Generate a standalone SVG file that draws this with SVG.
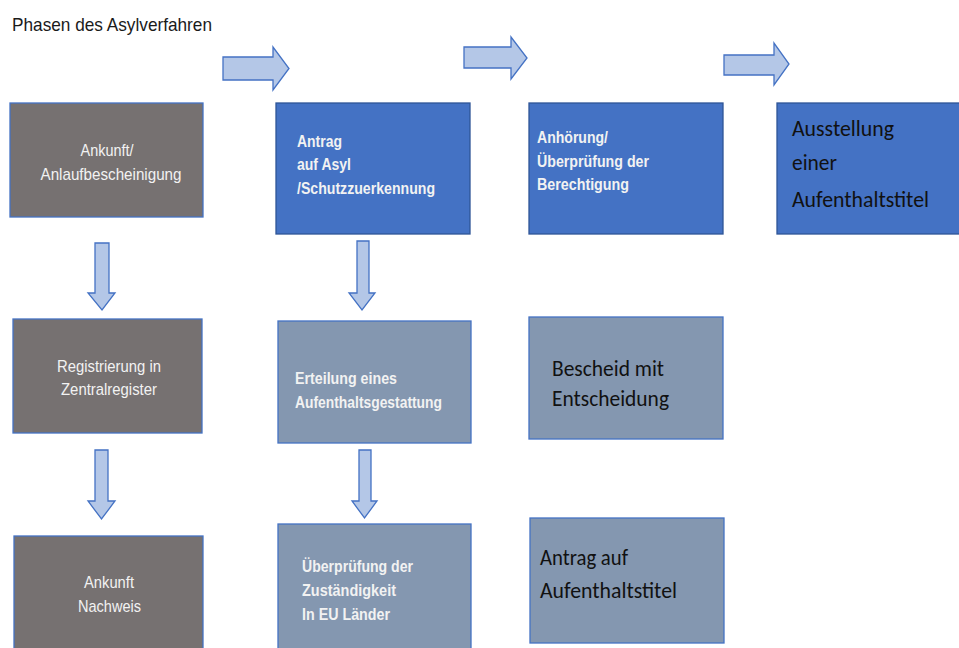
<svg xmlns="http://www.w3.org/2000/svg" width="959" height="648" viewBox="0 0 959 648">
<defs>
<style>
.bg{fill:#ffffff}
.gray{fill:#767171;stroke:#4472C4;stroke-width:1.3}
.blue{fill:#4472C4;stroke:#2F5597;stroke-width:1.3}
.light{fill:#8497B0;stroke:#4472C4;stroke-width:1.3}
.arr{fill:#B4C7E7;stroke:#4472C4;stroke-width:1.3;stroke-linejoin:miter}
.title{font-family:"Liberation Sans",Arial,sans-serif;font-size:19px;fill:#1a1a1a}
.tn{font-family:"Liberation Sans",Arial,sans-serif;font-size:17px;fill:#f2f2f2;text-anchor:middle}
.tb{font-family:"Liberation Sans",Arial,sans-serif;font-size:17px;font-weight:bold;fill:#f2f2f2}
.tc{font-family:Carlito,Lato,"Open Sans",sans-serif;font-size:23px;fill:#111111}
</style>
</defs>
<rect class="bg" x="0" y="0" width="959" height="648"/>
<text class="title" x="12" y="31" textLength="200" lengthAdjust="spacingAndGlyphs">Phasen des Asylverfahren</text>

<g id="connectors">
<path class="arr" d="M223,57 H273 V47 L289,68.5 L273,90 V80 H223 Z"/>
<path class="arr" d="M464,47 H511 V37 L527,58 L511,79 V68 H464 Z"/>
<path class="arr" d="M724,55 H774 V43 L789,64 L774,85 V75 H724 Z"/>
<path class="arr" d="M95,243 H109 V293 H115 L102,310 L88,293 H95 Z"/>
<path class="arr" d="M357,241 H369 V293 H375 L362,310 L349,293 H357 Z"/>
<path class="arr" d="M95,450 H108 V501 H115 L101.5,519 L88,501 H95 Z"/>
<path class="arr" d="M359,450 H371 V501 H377 L364.5,518 L352,501 H359 Z"/>
</g>

<g id="node-ankunft">
<rect class="gray" x="10" y="103" width="193" height="114"/>
<text class="tn" x="107" y="156" textLength="53" lengthAdjust="spacingAndGlyphs">Ankunft/</text>
<text class="tn" x="111" y="180" textLength="141" lengthAdjust="spacingAndGlyphs">Anlaufbescheinigung</text>
</g>
<g id="node-registrierung">
<rect class="gray" x="13" y="319" width="189" height="114"/>
<text class="tn" x="109" y="372" textLength="104" lengthAdjust="spacingAndGlyphs">Registrierung in</text>
<text class="tn" x="109" y="395" textLength="96" lengthAdjust="spacingAndGlyphs">Zentralregister</text>
</g>
<g id="node-nachweis">
<rect class="gray" x="14" y="536" width="189" height="120"/>
<text class="tn" x="109" y="588" textLength="50" lengthAdjust="spacingAndGlyphs">Ankunft</text>
<text class="tn" x="109.5" y="612" textLength="63" lengthAdjust="spacingAndGlyphs">Nachweis</text>
</g>

<g id="node-antrag-asyl">
<rect class="blue" x="276" y="103" width="194" height="131"/>
<text class="tb" x="297" y="147" textLength="45" lengthAdjust="spacingAndGlyphs">Antrag</text>
<text class="tb" x="297" y="170" textLength="54" lengthAdjust="spacingAndGlyphs">auf Asyl</text>
<text class="tb" x="297" y="194" textLength="138" lengthAdjust="spacingAndGlyphs">/Schutzzuerkennung</text>
</g>
<g id="node-erteilung">
<rect class="light" x="278" y="321" width="193" height="122"/>
<text class="tb" x="295" y="384" textLength="102" lengthAdjust="spacingAndGlyphs">Erteilung eines</text>
<text class="tb" x="295" y="408" textLength="147" lengthAdjust="spacingAndGlyphs">Aufenthaltsgestattung</text>
</g>
<g id="node-zustaendigkeit">
<rect class="light" x="278" y="524" width="193" height="132"/>
<text class="tb" x="302" y="572" textLength="111" lengthAdjust="spacingAndGlyphs">Überprüfung der</text>
<text class="tb" x="302" y="596" textLength="94" lengthAdjust="spacingAndGlyphs">Zuständigkeit</text>
<text class="tb" x="302" y="620" textLength="88" lengthAdjust="spacingAndGlyphs">In EU Länder</text>
</g>

<g id="node-anhoerung">
<rect class="blue" x="529" y="103" width="194" height="131"/>
<text class="tb" x="537" y="143" textLength="71" lengthAdjust="spacingAndGlyphs">Anhörung/</text>
<text class="tb" x="537" y="167" textLength="112" lengthAdjust="spacingAndGlyphs">Überprüfung der</text>
<text class="tb" x="537" y="190" textLength="92" lengthAdjust="spacingAndGlyphs">Berechtigung</text>
</g>
<g id="node-bescheid">
<rect class="light" x="529" y="317" width="194" height="122"/>
<text class="tc" x="552" y="376" textLength="112" lengthAdjust="spacingAndGlyphs">Bescheid mit</text>
<text class="tc" x="552" y="406" textLength="117" lengthAdjust="spacingAndGlyphs">Entscheidung</text>
</g>
<g id="node-antrag-titel">
<rect class="light" x="530" y="518" width="194" height="125"/>
<text class="tc" x="540" y="565" textLength="88" lengthAdjust="spacingAndGlyphs">Antrag auf</text>
<text class="tc" x="540" y="598" textLength="137" lengthAdjust="spacingAndGlyphs">Aufenthaltstitel</text>
</g>

<g id="node-ausstellung">
<rect class="blue" x="777" y="103" width="190" height="131"/>
<text class="tc" x="792" y="136" textLength="102" lengthAdjust="spacingAndGlyphs">Ausstellung</text>
<text class="tc" x="792" y="170" textLength="45" lengthAdjust="spacingAndGlyphs">einer</text>
<text class="tc" x="792" y="207" textLength="137" lengthAdjust="spacingAndGlyphs">Aufenthaltstitel</text>
</g>
</svg>
